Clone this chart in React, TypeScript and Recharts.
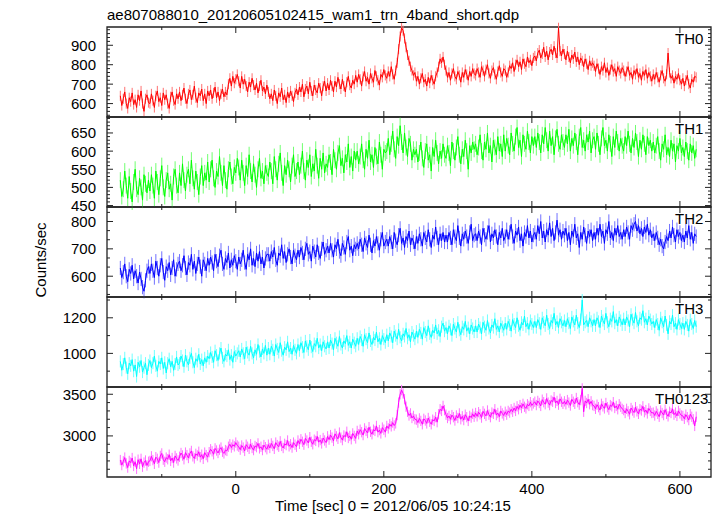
import { LineChart, Line, XAxis, YAxis, ReferenceArea, ErrorBar } from "recharts";

// time grid: first bin and bin width in seconds
const T_START = -156;
const T_STEP = 2;
const X_DOMAIN: [number, number] = [-174, 642];
const X_TICKS = [-100, 0, 100, 200, 300, 400, 500, 600];
const X_LABELS = [0, 200, 400, 600];

// each line of 20 values covers 40 s
const th0 = [
  640, 590, 625, 660, 600, 575, 630, 610, 655, 595, 620, 580, 645, 615, 665, 600, 560, 625, 645, 605,
  600, 650, 615, 580, 640, 665, 610, 630, 590, 655, 620, 645, 600, 575, 635, 660, 615, 595, 650, 625,
  660, 615, 645, 680, 625, 600, 650, 670, 620, 645, 690, 630, 605, 655, 640, 675, 615, 650, 600, 665,
  640, 670, 625, 655, 685, 630, 660, 615, 650, 675, 635, 660, 645, 700, 730, 690, 740, 705, 725, 750,
  715, 680, 740, 700, 725, 690, 660, 710, 685, 730, 695, 670, 705, 655, 690, 720, 665, 685, 650, 695,
  660, 625, 650, 615, 670, 640, 600, 655, 635, 680, 620, 645, 605, 660, 630, 665, 640, 610, 655, 675,
  645, 685, 660, 700, 635, 675, 690, 650, 710, 665, 640, 695, 670, 655, 705, 680, 640, 690, 715, 665,
  705, 670, 720, 690, 660, 715, 685, 735, 700, 675, 725, 690, 660, 710, 740, 695, 680, 720, 700, 745,
  710, 750, 725, 690, 740, 765, 715, 735, 700, 755, 730, 710, 770, 740, 720, 695, 750, 735, 775, 745,
  730, 765, 740, 790, 750, 725, 770, 810, 880, 945, 990, 975, 935, 890, 850, 820, 790, 770, 745, 760,
  715, 740, 700, 730, 755, 710, 725, 690, 735, 705, 745, 720, 700, 740, 760, 790, 830, 810, 840, 800,
  770, 735, 760, 720, 755, 780, 740, 725, 765, 745, 710, 760, 735, 775, 750, 720, 765, 740, 780, 755,
  745, 780, 760, 735, 790, 770, 740, 775, 800, 755, 730, 770, 785, 750, 725, 765, 795, 760, 740, 780,
  770, 735, 760, 795, 780, 810, 765, 800, 825, 790, 815, 775, 830, 805, 790, 840, 810, 825, 795, 835,
  845, 820, 860, 875, 835, 855, 890, 840, 870, 825, 865, 880, 850, 895, 860, 835, 990, 870, 845, 880,
  855, 825, 870, 840, 810, 850, 830, 865, 815, 840, 800, 835, 820, 790, 830, 805, 775, 820, 795, 810,
  795, 765, 805, 780, 750, 790, 770, 810, 760, 785, 745, 775, 800, 765, 780, 740, 790, 770, 755, 785,
  770, 740, 765, 790, 745, 760, 725, 770, 750, 780, 735, 755, 720, 765, 745, 775, 730, 760, 740, 715,
  750, 725, 760, 735, 710, 745, 770, 730, 715, 750, 860, 760, 730, 745, 705, 740, 725, 755, 720, 700,
  730, 690, 720, 745, 700, 680, 725, 710, 740, 735,
];

const th1 = [
  520, 475, 495, 545, 505, 470, 530, 490, 460, 515, 550, 495, 480, 525, 500, 465, 535, 510, 485, 520,
  490, 535, 505, 470, 545, 515, 480, 525, 560, 500, 475, 520, 540, 495, 510, 465, 530, 550, 505, 485,
  540, 505, 565, 520, 490, 535, 550, 510, 575, 525, 495, 545, 515, 480, 530, 560, 505, 540, 520, 570,
  515, 550, 575, 525, 500, 545, 530, 585, 540, 505, 560, 520, 495, 550, 570, 530, 510, 555, 540, 580,
  555, 520, 575, 540, 505, 560, 530, 590, 545, 515, 565, 535, 500, 550, 580, 525, 545, 510, 560, 540,
  530, 570, 545, 510, 585, 550, 520, 565, 595, 540, 505, 560, 535, 575, 550, 515, 560, 590, 530, 545,
  570, 535, 560, 600, 545, 520, 575, 555, 590, 530, 565, 545, 605, 560, 525, 580, 550, 595, 540, 565,
  555, 590, 570, 535, 605, 575, 550, 595, 615, 560, 580, 540, 590, 570, 620, 555, 585, 545, 600, 575,
  600, 565, 585, 620, 575, 550, 605, 580, 630, 570, 590, 555, 610, 585, 565, 625, 590, 550, 605, 595,
  600, 635, 590, 620, 655, 605, 580, 640, 615, 670, 625, 595, 650, 610, 585, 635, 620, 575, 605, 590,
  605, 570, 595, 625, 580, 555, 600, 620, 575, 590, 545, 610, 585, 630, 595, 565, 600, 580, 620, 590,
  580, 615, 595, 560, 625, 600, 575, 610, 640, 590, 565, 605, 585, 630, 600, 550, 615, 595, 625, 605,
  620, 590, 610, 645, 600, 575, 625, 605, 650, 595, 615, 570, 630, 610, 590, 640, 600, 620, 585, 645,
  600, 635, 615, 590, 650, 620, 600, 640, 665, 610, 630, 585, 645, 620, 605, 655, 625, 595, 640, 615,
  640, 610, 650, 625, 595, 645, 620, 665, 630, 600, 655, 615, 640, 590, 635, 660, 620, 605, 645, 625,
  610, 645, 620, 660, 600, 635, 615, 650, 625, 590, 640, 665, 610, 630, 600, 645, 625, 655, 595, 630,
  640, 605, 650, 620, 590, 635, 665, 615, 630, 600, 645, 620, 585, 640, 610, 655, 625, 600, 635, 615,
  600, 640, 615, 655, 620, 595, 635, 610, 650, 625, 585, 630, 605, 645, 620, 590, 640, 615, 630, 600,
  625, 595, 615, 640, 600, 575, 620, 605, 645, 590, 610, 585, 630, 600, 620, 570, 615, 600, 635, 595,
  610, 585, 625, 600, 575, 620, 595, 615, 580, 605,
];

const th2 = [
  630, 595, 615, 645, 600, 580, 625, 610, 640, 590, 620, 600, 575, 615, 590, 560, 545, 585, 620, 635,
  610, 645, 620, 595, 655, 630, 600, 640, 665, 615, 585, 635, 620, 650, 605, 630, 660, 600, 625, 645,
  655, 620, 640, 675, 630, 605, 650, 640, 680, 625, 655, 610, 645, 670, 635, 600, 660, 645, 620, 665,
  640, 670, 650, 620, 680, 655, 635, 675, 695, 645, 625, 665, 650, 685, 630, 660, 640, 675, 655, 625,
  670, 645, 660, 695, 650, 625, 680, 660, 700, 640, 665, 635, 685, 655, 690, 645, 670, 630, 665, 680,
  680, 655, 690, 670, 705, 660, 640, 685, 675, 715, 665, 690, 650, 680, 700, 670, 645, 695, 675, 660,
  695, 670, 705, 685, 660, 700, 720, 680, 690, 655, 710, 690, 670, 715, 685, 665, 700, 725, 680, 695,
  710, 685, 720, 695, 670, 715, 700, 735, 690, 675, 720, 705, 680, 725, 745, 695, 710, 675, 715, 700,
  720, 700, 735, 715, 690, 740, 720, 705, 750, 715, 685, 730, 710, 745, 720, 695, 735, 760, 710, 725,
  735, 710, 745, 725, 700, 760, 730, 715, 750, 775, 720, 740, 705, 745, 730, 765, 715, 740, 725, 700,
  745, 720, 755, 735, 710, 760, 740, 725, 770, 735, 705, 750, 735, 780, 740, 715, 755, 730, 760, 725,
  750, 725, 760, 740, 715, 770, 745, 730, 785, 740, 710, 755, 735, 765, 745, 720, 760, 790, 730, 750,
  755, 730, 765, 745, 715, 775, 750, 735, 760, 785, 725, 755, 740, 770, 745, 715, 760, 740, 775, 730,
  745, 770, 735, 760, 790, 745, 720, 765, 750, 780, 730, 755, 710, 760, 745, 785, 740, 765, 725, 750,
  760, 735, 785, 755, 800, 740, 765, 725, 770, 750, 795, 745, 775, 730, 760, 805, 750, 770, 735, 765,
  750, 775, 730, 760, 715, 765, 745, 790, 740, 755, 705, 760, 735, 780, 750, 720, 765, 745, 770, 730,
  760, 735, 775, 750, 790, 745, 765, 720, 770, 755, 800, 740, 760, 730, 775, 750, 785, 745, 760, 735,
  770, 745, 780, 760, 735, 785, 770, 790, 800, 765, 785, 755, 775, 745, 780, 760, 790, 750, 770, 740,
  755, 730, 760, 740, 715, 735, 710, 700, 725, 745, 730, 765, 740, 780, 750, 725, 770, 745, 760, 730,
  750, 725, 765, 740, 785, 735, 760, 720, 755, 745,
];

const th3 = [
  955, 905, 940, 975, 920, 885, 945, 930, 965, 900, 935, 870, 950, 925, 960, 895, 920, 945, 880, 935,
  960, 920, 945, 985, 930, 900, 955, 940, 975, 915, 950, 890, 945, 970, 925, 955, 905, 940, 980, 935,
  945, 985, 960, 925, 990, 955, 935, 975, 1000, 950, 920, 970, 955, 995, 940, 965, 930, 975, 950, 985,
  970, 1005, 980, 950, 1015, 990, 960, 1000, 1030, 975, 955, 995, 985, 1020, 965, 990, 950, 1010, 985, 1000,
  1015, 980, 1025, 1000, 970, 1035, 1005, 990, 1040, 1000, 975, 1020, 995, 1050, 1010, 980, 1025, 1000, 1045, 990,
  1030, 995, 1040, 1020, 985, 1050, 1025, 1005, 1060, 1015, 990, 1035, 1020, 1065, 1010, 1030, 995, 1045, 1020, 1000,
  1050, 1015, 1060, 1035, 1005, 1070, 1040, 1020, 1075, 1035, 1010, 1055, 1040, 1085, 1030, 1050, 1015, 1065, 1040, 1025,
  1065, 1030, 1075, 1055, 1020, 1085, 1060, 1040, 1095, 1050, 1030, 1070, 1055, 1100, 1045, 1065, 1030, 1080, 1060, 1040,
  1085, 1050, 1095, 1075, 1040, 1105, 1080, 1060, 1115, 1070, 1050, 1090, 1075, 1120, 1065, 1085, 1050, 1100, 1080, 1060,
  1105, 1070, 1115, 1095, 1060, 1125, 1100, 1080, 1135, 1090, 1070, 1110, 1095, 1140, 1085, 1105, 1065, 1120, 1100, 1080,
  1125, 1090, 1135, 1115, 1080, 1145, 1120, 1100, 1155, 1110, 1090, 1130, 1115, 1160, 1110, 1130, 1095, 1150, 1170, 1125,
  1145, 1110, 1155, 1135, 1100, 1165, 1140, 1120, 1175, 1130, 1105, 1150, 1135, 1180, 1125, 1145, 1110, 1160, 1140, 1120,
  1155, 1120, 1165, 1145, 1110, 1175, 1150, 1130, 1185, 1140, 1115, 1160, 1145, 1195, 1135, 1155, 1120, 1170, 1150, 1130,
  1170, 1135, 1180, 1160, 1125, 1190, 1165, 1145, 1200, 1155, 1130, 1175, 1160, 1210, 1150, 1170, 1135, 1185, 1165, 1145,
  1180, 1145, 1190, 1170, 1135, 1200, 1175, 1155, 1215, 1165, 1140, 1185, 1170, 1225, 1160, 1180, 1145, 1195, 1175, 1155,
  1185, 1150, 1195, 1170, 1140, 1205, 1180, 1160, 1215, 1170, 1145, 1190, 1300, 1160, 1175, 1185, 1150, 1200, 1180, 1155,
  1190, 1155, 1200, 1180, 1145, 1210, 1185, 1165, 1225, 1175, 1150, 1195, 1180, 1235, 1170, 1190, 1155, 1205, 1185, 1160,
  1195, 1160, 1205, 1185, 1150, 1220, 1190, 1170, 1230, 1180, 1155, 1200, 1190, 1240, 1175, 1195, 1160, 1210, 1190, 1165,
  1180, 1145, 1190, 1165, 1130, 1200, 1175, 1150, 1210, 1160, 1110, 1180, 1165, 1215, 1150, 1170, 1135, 1190, 1165, 1140,
  1170, 1135, 1180, 1160, 1125, 1190, 1165, 1140, 1185, 1150,
];

const th0123 = [
  2710, 2650, 2695, 2740, 2670, 2620, 2700, 2680, 2735, 2640, 2690, 2605, 2715, 2665, 2725, 2630, 2680, 2705, 2645, 2690,
  2700, 2755, 2710, 2665, 2745, 2725, 2680, 2760, 2790, 2715, 2690, 2740, 2720, 2775, 2700, 2735, 2680, 2760, 2730, 2705,
  2750, 2795, 2765, 2720, 2800, 2770, 2735, 2790, 2820, 2755, 2730, 2785, 2765, 2810, 2745, 2775, 2725, 2800, 2770, 2745,
  2805, 2840, 2815, 2780, 2850, 2825, 2795, 2835, 2860, 2810, 2790, 2830, 2820, 2870, 2900, 2860, 2895, 2875, 2920, 2885,
  2870, 2835, 2885, 2860, 2820, 2895, 2870, 2845, 2900, 2855, 2830, 2880, 2865, 2910, 2850, 2870, 2830, 2890, 2865, 2840,
  2895, 2855, 2910, 2880, 2845, 2920, 2890, 2870, 2935, 2880, 2855, 2905, 2890, 2945, 2875, 2900, 2860, 2920, 2895, 2870,
  2945, 2905, 2960, 2930, 2895, 2970, 2945, 2915, 2985, 2930, 2900, 2955, 2940, 2995, 2925, 2950, 2910, 2975, 2945, 2920,
  2995, 2955, 3010, 2980, 2940, 3025, 2995, 2965, 3040, 2980, 2950, 3005, 2990, 3050, 2975, 3000, 2960, 3030, 3000, 2970,
  3060, 3020, 3075, 3045, 3010, 3090, 3060, 3035, 3105, 3050, 3020, 3075, 3060, 3120, 3045, 3070, 3030, 3100, 3075, 3045,
  3120, 3090, 3140, 3115, 3160, 3125, 3150, 3250, 3400, 3500, 3550, 3510, 3440, 3350, 3290, 3245, 3270, 3215, 3240, 3200,
  3195, 3160, 3210, 3180, 3140, 3205, 3185, 3150, 3215, 3170, 3140, 3195, 3180, 3225, 3165, 3260, 3320, 3300, 3360, 3310,
  3255, 3215, 3240, 3200, 3250, 3225, 3185, 3245, 3215, 3270, 3200, 3235, 3190, 3255, 3225, 3180, 3240, 3220, 3265, 3230,
  3275, 3235, 3285, 3260, 3220, 3295, 3265, 3240, 3305, 3255, 3225, 3280, 3265, 3320, 3250, 3275, 3230, 3300, 3270, 3245,
  3290, 3255, 3300, 3280, 3320, 3290, 3335, 3300, 3355, 3320, 3370, 3335, 3385, 3350, 3330, 3380, 3360, 3405, 3365, 3390,
  3410, 3370, 3420, 3395, 3360, 3435, 3405, 3380, 3450, 3400, 3370, 3425, 3410, 3465, 3395, 3420, 3375, 3445, 3410, 3385,
  3415, 3380, 3430, 3400, 3365, 3440, 3410, 3385, 3455, 3405, 3375, 3430, 3570, 3290, 3420, 3395, 3440, 3380, 3415, 3370,
  3360, 3325, 3375, 3345, 3310, 3385, 3355, 3330, 3395, 3345, 3315, 3370, 3355, 3405, 3335, 3360, 3320, 3380, 3350, 3325,
  3310, 3275, 3325, 3295, 3260, 3335, 3305, 3280, 3345, 3295, 3265, 3320, 3305, 3355, 3285, 3310, 3270, 3330, 3300, 3275,
  3280, 3245, 3295, 3265, 3230, 3305, 3275, 3250, 3315, 3265, 3235, 3290, 3275, 3325, 3255, 3280, 3240, 3300, 3270, 3245,
  3240, 3205, 3255, 3225, 3190, 3260, 3230, 3200, 3120, 3230,
];

// typical 1-sigma error bar half-length of each band (counts/sec)
const errTh0 = 26;
const errTh1 = 22;
const errTh2 = 26;
const errTh3 = 34;
const errTh0123 = 62;

const rows = th0.map((v, i) => ({
  t: T_START + i * T_STEP,
  th0: v,
  th1: th1[i],
  th2: th2[i],
  th3: th3[i],
  th0123: th0123[i],
  th0Err: errTh0,
  th1Err: errTh1,
  th2Err: errTh2,
  th3Err: errTh3,
  th0123Err: errTh0123,
}));

const panels = [
  { key: "th0", name: "TH0", color: "#ff0000", light: "#ff7070", domain: [531, 994], step: 20, labels: [600, 700, 800, 900], nameX: 675 },
  { key: "th1", name: "TH1", color: "#00ff00", light: "#70ff70", domain: [446, 694], step: 10, labels: [450, 500, 550, 600, 650], nameX: 675 },
  { key: "th2", name: "TH2", color: "#0000ff", light: "#7070ff", domain: [524, 853], step: 100 / 3, labels: [600, 700, 800], nameX: 675 },
  { key: "th3", name: "TH3", color: "#00ffff", light: "#70ffff", domain: [811, 1317], step: 100, labels: [1000, 1200], nameX: 675 },
  { key: "th0123", name: "TH0123", color: "#ff00ff", light: "#ff70ff", domain: [2507, 3587], step: 100, labels: [3000, 3500], nameX: 655 },
];

const W = 717;
const H = 516;
const TOP = 27;
const PANEL_H = 90;
const PLOT_LEFT = 107;
const PLOT_W = 604;
const PAD = 12;
const FONT = "'Liberation Sans', Arial, Helvetica, sans-serif";

function ticksFor(domain: number[], step: number) {
  const out: number[] = [];
  let k = Math.ceil(domain[0] / step - 1e-9);
  while (k * step <= domain[1] + 1e-9) {
    out.push(Math.round(k * step * 1000) / 1000);
    k++;
  }
  return out;
}

function YTick(props: any) {
  const { x, y, payload, labels } = props;
  const v = payload.value;
  const major = labels.some((l: number) => Math.abs(l - v) < 0.01);
  const len = major ? 6 : 3;
  return (
    <g>
      <line x1={x} x2={x + len} y1={y} y2={y} stroke="#222" strokeWidth={1} />
      <line x1={x + PLOT_W} x2={x + PLOT_W - len} y1={y} y2={y} stroke="#222" strokeWidth={1} />
      {major && (
        <text x={x - 11} y={y} dy="0.36em" textAnchor="end" fontSize={15} fontFamily={FONT} fill="#000">
          {Math.round(v)}
        </text>
      )}
    </g>
  );
}

function XTick(props: any) {
  const { x, y, payload, showLabels } = props;
  const v = payload.value;
  const major = X_LABELS.includes(v);
  const len = major ? 6 : 3;
  return (
    <g>
      <line x1={x} x2={x} y1={y} y2={y - len} stroke="#222" strokeWidth={1} />
      <line x1={x} x2={x} y1={y - PANEL_H} y2={y - PANEL_H + len} stroke="#222" strokeWidth={1} />
      {showLabels && major && (
        <text x={x} y={y + 17} textAnchor="middle" fontSize={15} fontFamily={FONT} fill="#000">
          {v}
        </text>
      )}
    </g>
  );
}

function Panel({ p, index }: { p: (typeof panels)[number]; index: number }) {
  const last = index === panels.length - 1;
  const axisH = last ? PAD + 30 : PAD;
  return (
    <div style={{ position: "absolute", left: 0, top: TOP + index * PANEL_H - PAD }}>
      <LineChart
        width={W}
        height={PANEL_H + PAD + axisH}
        data={rows}
        margin={{ top: PAD, right: W - PLOT_LEFT - PLOT_W, bottom: 0, left: 0 }}
      >
        <XAxis
          dataKey="t"
          type="number"
          domain={X_DOMAIN}
          ticks={X_TICKS}
          interval={0}
          allowDataOverflow
          height={axisH}
          axisLine={false}
          tickLine={false}
          tickSize={0}
          tickMargin={0}
          tick={(tp: any) => <XTick {...tp} showLabels={last} />}
        />
        <YAxis
          type="number"
          domain={p.domain}
          ticks={ticksFor(p.domain, p.step)}
          interval={0}
          allowDataOverflow
          width={PLOT_LEFT}
          axisLine={false}
          tickLine={false}
          tickSize={0}
          tickMargin={0}
          tick={(tp: any) => <YTick {...tp} labels={p.labels} />}
        />
        <ReferenceArea
          x1={X_DOMAIN[0]}
          x2={X_DOMAIN[1]}
          y1={p.domain[0]}
          y2={p.domain[1]}
          fill="none"
          fillOpacity={0}
          stroke="#222"
          strokeWidth={1.3}
        />
        <Line
          type="linear"
          dataKey={p.key}
          stroke={p.color}
          strokeWidth={1}
          dot={false}
          isAnimationActive={false}
        >
          <ErrorBar dataKey={p.key + "Err"} direction="y" width={0} stroke={p.light} strokeWidth={1} />
        </Line>
      </LineChart>
    </div>
  );
}

export default function App() {
  return (
    <div style={{ position: "absolute", left: 0, top: 0, width: W, height: H, background: "#fff" }}>
      {panels.map((p, i) => (
        <Panel key={p.key} p={p} index={i} />
      ))}
      <svg width={W} height={H} style={{ position: "absolute", left: 0, top: 0, pointerEvents: "none" }}>
        <g fontFamily={FONT} fontSize={15} fill="#000">
          <text x={PLOT_LEFT} y={20}>ae807088010_20120605102415_wam1_trn_4band_short.qdp</text>
          {panels.map((p, i) => (
            <text key={p.key} x={p.nameX} y={TOP + i * PANEL_H + 16.5}>
              {p.name}
            </text>
          ))}
          <text x={41} y={260} textAnchor="middle" dy="0.35em" transform="rotate(-90 41 260)">
            Counts/sec
          </text>
          <text x={275} y={511}>Time [sec] 0 = 2012/06/05 10:24:15</text>
        </g>
      </svg>
    </div>
  );
}
